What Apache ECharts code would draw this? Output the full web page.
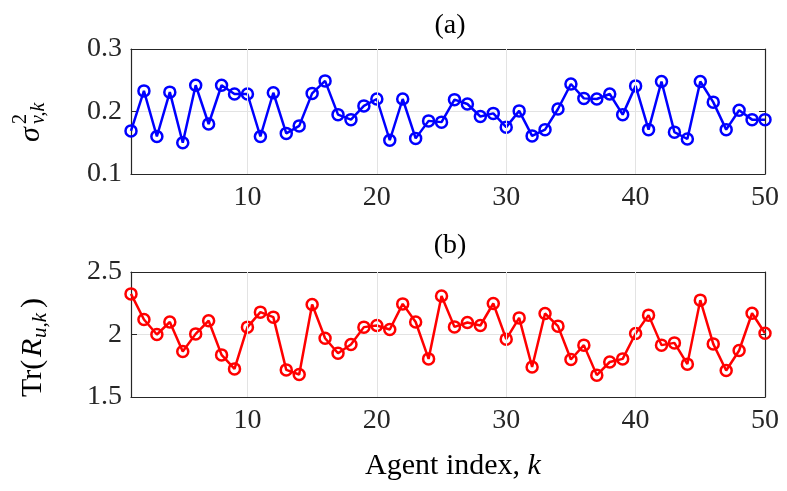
<!DOCTYPE html>
<html>
<head>
<meta charset="utf-8">
<script src="https://cdn.jsdelivr.net/npm/echarts@6/dist/echarts.min.js"></script>
<style>
  html, body { margin: 0; padding: 0; background: #fff; }
  #main { width: 787px; height: 491px; }
</style>
</head>
<body>
<div id="main"></div>
<script>
// agent index k
const agents = [1, 2, 3, 4, 5, 6, 7, 8, 9, 10, 11, 12, 13, 14, 15, 16, 17, 18, 19, 20,
  21, 22, 23, 24, 25, 26, 27, 28, 29, 30, 31, 32, 33, 34, 35, 36, 37, 38, 39, 40,
  41, 42, 43, 44, 45, 46, 47, 48, 49, 50];

// (a) noise variance sigma^2_{v,k}
const sigmaV = [0.169, 0.233, 0.160, 0.231, 0.150, 0.242, 0.180, 0.242, 0.228, 0.228,
  0.160, 0.230, 0.165, 0.177, 0.229, 0.249, 0.195, 0.187, 0.209, 0.220,
  0.154, 0.220, 0.157, 0.185, 0.183, 0.219, 0.212, 0.192, 0.197, 0.175,
  0.201, 0.161, 0.171, 0.204, 0.244, 0.221, 0.220, 0.228, 0.195, 0.241,
  0.171, 0.248, 0.167, 0.156, 0.248, 0.215, 0.171, 0.202, 0.187, 0.187];

// (b) Tr(R_{u,k})
const traceRu = [2.325, 2.120, 2.000, 2.100, 1.864, 2.005, 2.110, 1.837, 1.725, 2.059,
  2.179, 2.139, 1.717, 1.680, 2.240, 1.970, 1.850, 1.920, 2.059, 2.072,
  2.040, 2.245, 2.100, 1.805, 2.308, 2.061, 2.096, 2.072, 2.248, 1.963,
  2.133, 1.740, 2.168, 2.067, 1.800, 1.915, 1.675, 1.780, 1.805, 2.008,
  2.155, 1.915, 1.933, 1.763, 2.275, 1.925, 1.712, 1.872, 2.170, 2.010];

const xTicks = [10, 20, 30, 40, 50];
const xGrid = [10, 20, 30, 40];

const FONT = '"Liberation Serif", "DejaVu Serif", serif';
const AXIS_COLOR = '#262626';
const GRID_COLOR = '#e3e3e3';

function xAxisFor(gridIndex, top) {
  return {
    type: 'value', gridIndex: gridIndex, min: 1, max: 50,
    position: top ? 'top' : 'bottom',
    axisLine: { show: true, onZero: false, lineStyle: { color: AXIS_COLOR, width: 1.2 } },
    axisTick: { show: true, inside: true, length: 6, customValues: xTicks,
      lineStyle: { color: AXIS_COLOR, width: 1 } },
    axisLabel: top ? { show: false } : {
      customValues: xTicks, fontSize: 28, fontFamily: FONT, color: AXIS_COLOR, margin: 10
    },
    splitLine: { show: false }
  };
}

function yAxisFor(gridIndex, right, min, max, step) {
  return {
    type: 'value', gridIndex: gridIndex, min: min, max: max, interval: step,
    position: right ? 'right' : 'left',
    axisLine: { show: true, onZero: false, lineStyle: { color: AXIS_COLOR, width: 1.2 } },
    axisTick: { show: true, inside: true, length: 6, lineStyle: { color: AXIS_COLOR, width: 1 } },
    axisLabel: right ? { show: false } : {
      fontSize: 28, fontFamily: FONT, color: AXIS_COLOR, margin: 9
    },
    splitLine: right ? { show: false } : { show: true, lineStyle: { color: GRID_COLOR, width: 1 } }
  };
}

function markerSeries(xi, yi, values, color) {
  return {
    type: 'line', xAxisIndex: xi, yAxisIndex: yi, z: 3,
    data: agents.map((k, i) => [k, values[i]]),
    symbol: 'circle', symbolSize: 11,
    lineStyle: { color: color, width: 2.5 },
    itemStyle: { color: 'rgba(0,0,0,0)', borderColor: color, borderWidth: 2.5 },
    emphasis: { disabled: true },
    silent: true
  };
}

// vertical grid lines at 10..40 (axis ticks start from min=1, so draw them here)
function gridLines(xi, yi) {
  return {
    type: 'line', xAxisIndex: xi, yAxisIndex: yi, z: 1, data: [], silent: true,
    markLine: {
      silent: true, symbol: ['none', 'none'], label: { show: false },
      lineStyle: { color: GRID_COLOR, width: 1, type: 'solid' },
      data: xGrid.map(v => ({ xAxis: v }))
    }
  };
}

function txt(text, x, y, size, italic, align) {
  return {
    type: 'text',
    style: {
      text: text, x: x, y: y, fill: '#000',
      font: (italic ? 'italic ' : '') + size + 'px ' + FONT,
      textAlign: align || 'left', textVerticalAlign: 'middle',
      align: align || 'left', verticalAlign: 'middle'
    }
  };
}

const chart = echarts.init(document.getElementById('main'));
chart.setOption({
  animation: false,
  backgroundColor: '#fff',
  grid: [
    { left: 131, right: 22, top: 49, height: 125 },
    { left: 131, right: 22, top: 272, height: 125 }
  ],
  xAxis: [xAxisFor(0, false), xAxisFor(0, true), xAxisFor(1, false), xAxisFor(1, true)],
  yAxis: [
    yAxisFor(0, false, 0.1, 0.3, 0.1), yAxisFor(0, true, 0.1, 0.3, 0.1),
    yAxisFor(1, false, 1.5, 2.5, 0.5), yAxisFor(1, true, 1.5, 2.5, 0.5)
  ],
  series: [
    gridLines(0, 0),
    gridLines(2, 2),
    markerSeries(0, 0, sigmaV, '#0000ff'),
    markerSeries(2, 2, traceRu, '#ff0000')
  ],
  graphic: [
    txt('(a)', 450, 26, 28, false, 'center'),
    txt('(b)', 450, 246, 28, false, 'center'),
    {
      type: 'text',
      style: {
        text: '{n|Agent index, }{i|k}', x: 453, y: 466,
        textAlign: 'center', textVerticalAlign: 'middle', align: 'center', verticalAlign: 'middle',
        rich: {
          n: { fontSize: 30, fontFamily: FONT, fill: '#000', color: '#000' },
          i: { fontSize: 30, fontFamily: FONT, fontStyle: 'italic', fill: '#000', color: '#000' }
        }
      }
    },
    {
      type: 'group', x: 31, y: 120, rotation: Math.PI / 2,
      children: [
        txt('σ', -22, 0, 30, true),
        txt('2', -4, -10, 20, false),
        txt('v,k', -4, 8, 20, true)
      ]
    },
    {
      type: 'group', x: 33, y: 345, rotation: Math.PI / 2,
      children: [
        txt('Tr(', -52, 0, 30, false),
        txt('R', -12, 0, 30, true),
        txt('u,k', 7, 7, 21, true),
        txt(')', 37, 0, 30, false)
      ]
    }
  ]
});
</script>
</body>
</html>
